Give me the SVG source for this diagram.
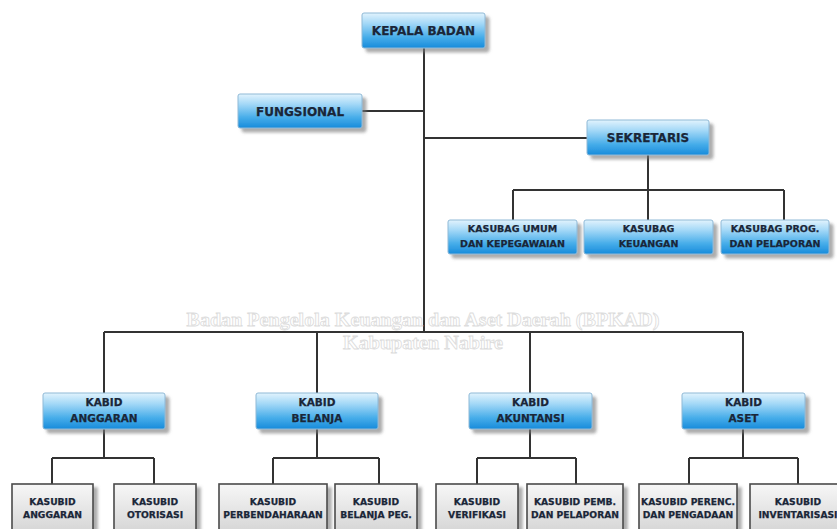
<svg xmlns="http://www.w3.org/2000/svg" width="837" height="529" viewBox="0 0 837 529">
<defs>
<linearGradient id="blue" x1="0" y1="0" x2="0" y2="1">
<stop offset="0" stop-color="#e2f3fd"/>
<stop offset="0.3" stop-color="#a3d8f7"/>
<stop offset="0.7" stop-color="#45ace9"/>
<stop offset="1" stop-color="#188bdb"/>
</linearGradient>
<linearGradient id="gray" x1="0" y1="0" x2="0" y2="1">
<stop offset="0" stop-color="#f7f7f7"/>
<stop offset="1" stop-color="#d4d4d4"/>
</linearGradient>
<filter id="sh" x="-10%" y="-20%" width="130%" height="160%">
<feDropShadow dx="4" dy="4" stdDeviation="1.5" flood-color="#777" flood-opacity="0.6"/>
</filter>
</defs>
<style>
.b{fill:url(#blue);stroke:#8fb9d6;stroke-width:1;filter:url(#sh)}
.g{fill:url(#gray);stroke:#4a4a4a;stroke-width:1.6;filter:url(#sh)}
.t{font-family:"DejaVu Sans",Verdana,sans-serif;font-weight:bold;fill:#1a2638;stroke:#1a2638;stroke-width:0.25;text-anchor:middle}
.t12{font-size:12px}
.t10{font-size:10.5px}
.t9{font-size:9.5px}
.t8{font-size:9.2px}
.c{fill:none;stroke:#333;stroke-width:2}
.wm{font-family:"Liberation Serif",serif;font-weight:bold;font-size:19px;fill:#ffffff;stroke:#dcdcdc;stroke-width:0.8;text-anchor:middle}
</style>
<rect width="837" height="529" fill="#ffffff"/>

<g id="connectors">
<path class="c" d="M424 48V332M362 111H424M424 138H587M648 155V190M513 190H784M513 190V220M648 190V220M784 190V220"/>
<path class="c" d="M104 332H743M104 332V393M317 332V393M530 332V393M743 332V393"/>
<path class="c" d="M104 429V458M52 458H154M52 458V484M154 458V484"/>
<path class="c" d="M317 429V458M273 458H379M273 458V484M379 458V484"/>
<path class="c" d="M530 429V458M477 458H576M477 458V484M576 458V484"/>
<path class="c" d="M743 429V458M689 458H798M689 458V484M798 458V484"/>
</g>

<g id="watermark">
<text class="wm" x="423" y="326" textLength="473" lengthAdjust="spacingAndGlyphs">Badan Pengelola Keuangan dan Aset Daerah (BPKAD)</text>
<text class="wm" x="423" y="349" textLength="160" lengthAdjust="spacingAndGlyphs">Kabupaten Nabire</text>
</g>

<g id="kepala"><rect class="b" x="362" y="13" width="123" height="35" rx="2"/><text class="t t12" x="423.5" y="35">KEPALA BADAN</text></g>
<g id="fungsional"><rect class="b" x="238" y="94" width="124" height="34" rx="2"/><text class="t t12" x="300" y="115.5">FUNGSIONAL</text></g>
<g id="sekretaris"><rect class="b" x="587" y="120" width="122" height="35" rx="2"/><text class="t t12" x="648" y="142">SEKRETARIS</text></g>

<g id="kasubag-umum"><rect class="b" x="448" y="220" width="129" height="34" rx="2"/><text class="t t9" x="512.5" y="232">KASUBAG UMUM</text><text class="t t9" x="512.5" y="246.5">DAN KEPEGAWAIAN</text></g>
<g id="kasubag-keuangan"><rect class="b" x="584" y="220" width="129" height="34" rx="2"/><text class="t t9" x="648.5" y="232">KASUBAG</text><text class="t t9" x="648.5" y="246.5">KEUANGAN</text></g>
<g id="kasubag-prog"><rect class="b" x="721" y="220" width="108" height="34" rx="2"/><text class="t t9" x="775" y="232">KASUBAG PROG.</text><text class="t t9" x="775" y="246.5">DAN PELAPORAN</text></g>

<g id="kabid-anggaran"><rect class="b" x="43" y="393" width="122" height="36" rx="2"/><text class="t t10" x="104" y="406">KABID</text><text class="t t10" x="104" y="422">ANGGARAN</text></g>
<g id="kabid-belanja"><rect class="b" x="256" y="393" width="122" height="36" rx="2"/><text class="t t10" x="317" y="406">KABID</text><text class="t t10" x="317" y="422">BELANJA</text></g>
<g id="kabid-akuntansi"><rect class="b" x="469" y="393" width="123" height="36" rx="2"/><text class="t t10" x="530.5" y="406">KABID</text><text class="t t10" x="530.5" y="422">AKUNTANSI</text></g>
<g id="kabid-aset"><rect class="b" x="682" y="393" width="123" height="36" rx="2"/><text class="t t10" x="743.5" y="406">KABID</text><text class="t t10" x="743.5" y="422">ASET</text></g>

<g id="kasubid-anggaran"><rect class="g" x="12" y="484" width="81" height="50"/><text class="t t8" x="52.5" y="504.5">KASUBID</text><text class="t t8" x="52.5" y="518">ANGGARAN</text></g>
<g id="kasubid-otorisasi"><rect class="g" x="114" y="484" width="82" height="50"/><text class="t t8" x="155" y="504.5">KASUBID</text><text class="t t8" x="155" y="518">OTORISASI</text></g>
<g id="kasubid-perbendaharaan"><rect class="g" x="219" y="484" width="108" height="50"/><text class="t t8" x="273" y="504.5">KASUBID</text><text class="t t8" x="273" y="518">PERBENDAHARAAN</text></g>
<g id="kasubid-belanja"><rect class="g" x="335" y="484" width="82" height="50"/><text class="t t8" x="376" y="504.5">KASUBID</text><text class="t t8" x="376" y="518">BELANJA PEG.</text></g>
<g id="kasubid-verifikasi"><rect class="g" x="436" y="484" width="82" height="50"/><text class="t t8" x="477" y="504.5">KASUBID</text><text class="t t8" x="477" y="518">VERIFIKASI</text></g>
<g id="kasubid-pemb"><rect class="g" x="527" y="484" width="96" height="50"/><text class="t t8" x="575" y="504.5">KASUBID PEMB.</text><text class="t t8" x="575" y="518">DAN PELAPORAN</text></g>
<g id="kasubid-perenc"><rect class="g" x="639" y="484" width="98" height="50"/><text class="t t8" x="688" y="504.5">KASUBID PERENC.</text><text class="t t8" x="688" y="518">DAN PENGADAAN</text></g>
<g id="kasubid-inventarisasi"><rect class="g" x="750" y="484" width="96" height="50"/><text class="t t8" x="798" y="504.5">KASUBID</text><text class="t t8" x="798" y="518">INVENTARISASI</text></g>
</svg>
